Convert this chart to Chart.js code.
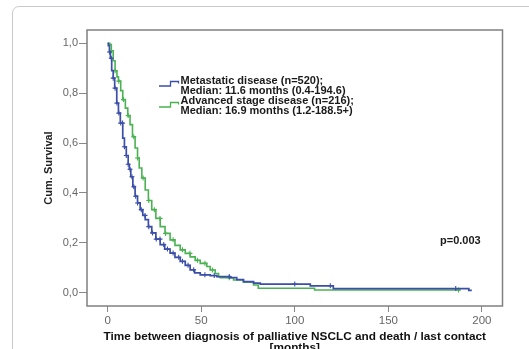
<!DOCTYPE html>
<html>
<head>
<meta charset="utf-8">
<script src="https://cdn.jsdelivr.net/npm/chart.js@4.4.1/dist/chart.umd.min.js"></script>
<style>
  html, body { margin: 0; padding: 0; background: #fff; overflow: hidden; }
  #frame {
    position: absolute; left: 12px; top: 6px; width: 600px; height: 400px;
    border: 1px solid #c9c9c9; border-radius: 7px;
  }
  #chart { position: absolute; left: 0; top: 0; }
</style>
</head>
<body>
<div id="frame"></div>
<canvas id="chart" width="529" height="349"></canvas>
<script>
// Kaplan-Meier steps: time (months) and survival after the step
const metTime = [0, 0.4, 1, 1.5, 2.2, 3, 3.8, 4.9, 5.8, 6.8, 8.1, 9, 10, 11, 11.6, 12.4, 13.5, 14.7, 16, 17.4,
  18.8, 20.1, 21.8, 23.6, 25.8, 28.1, 30.5, 33.4, 36, 38.8, 41.5, 44.1, 46.5, 49.5, 54.8, 58.4, 65.5, 69,
  72.6, 78, 81.6, 108.3, 120.6, 193, 194.6];
const metSurv = [1, 0.99, 0.965, 0.94, 0.89, 0.86, 0.82, 0.76, 0.72, 0.68, 0.62, 0.585, 0.55, 0.515, 0.495, 0.465,
  0.425, 0.387, 0.36, 0.333, 0.31, 0.293, 0.265, 0.24, 0.215, 0.193, 0.175, 0.159, 0.142, 0.126, 0.11, 0.092,
  0.08, 0.072, 0.069, 0.065, 0.061, 0.053, 0.045, 0.039, 0.035, 0.028, 0.017, 0.01, 0.01];

const advTime = [0, 1.2, 2, 3, 4, 5, 5.8, 7, 8.1, 9.5, 10.8, 12, 13.3, 14.7, 16, 16.9, 18.3, 20.1, 21.8, 23.6,
  25.8, 28.1, 30.7, 33.4, 36, 38.8, 41.5, 44.1, 46.8, 49.5, 53, 54.8, 57.5, 59.3, 60.2, 67.3, 72.6, 78, 80.5,
  110.6, 188.5];
const advSurv = [1, 0.995, 0.97, 0.93, 0.89, 0.865, 0.848, 0.81, 0.774, 0.74, 0.71, 0.674, 0.625, 0.58, 0.54, 0.5,
  0.46, 0.412, 0.37, 0.333, 0.298, 0.265, 0.238, 0.212, 0.19, 0.172, 0.158, 0.144, 0.13, 0.118, 0.105, 0.091,
  0.077, 0.064, 0.06, 0.051, 0.042, 0.031, 0.018, 0.011, 0.011];

// censored observations (months)
const metCensor = [1, 2, 3, 4, 5, 6, 7, 8, 9, 10, 11, 12, 13, 14, 15, 16, 18, 20, 22, 24, 26, 28, 30, 32, 35,
  38, 40, 43, 46, 52, 57, 65, 100, 119, 186];
const advCensor = [2, 4, 6, 8.5, 11, 14, 16, 19, 22, 25, 28, 31, 35, 40, 44, 48, 52, 56, 65, 187.5];

const xTicks = [0, 50, 100, 150, 200];
const yTicks = [0, 0.2, 0.4, 0.6, 0.8, 1.0];

const legendLines = [
  ['Metastatic disease (n=520);', 'Median: 11.6 months (0.4-194.6)'],
  ['Advanced stage disease (n=216);', 'Median: 16.9 months (1.2-188.5+)']
];
const pText = 'p=0.003';

const BLUE = '#3c4fa8';
const GREEN = '#4bb253';

// survival value at time t from the step arrays
function survAt(times, surv, t) {
  let s = surv[0];
  for (let i = 0; i < times.length; i++) if (times[i] <= t) s = surv[i];
  return s;
}
const pts = (ts, ss) => ts.map((t, i) => ({ x: t, y: ss[i] }));
const cens = (cs, ts, ss) => cs.map(t => ({ x: t, y: survAt(ts, ss, t) }));

const decorations = {
  id: 'decorations',
  afterDatasetsDraw(chart) {
    const { ctx, chartArea: a } = chart;
    ctx.save();
    // plot box
    ctx.strokeStyle = '#808080';
    ctx.lineWidth = 1.5;
    ctx.strokeRect(a.left, a.top, a.right - a.left, a.bottom - a.top);

    // legend
    const colors = [BLUE, GREEN];
    const iconY = [86, 107];
    ctx.font = 'bold 11px "Liberation Sans", Arial, sans-serif';
    ctx.textBaseline = 'alphabetic';
    ctx.textAlign = 'left';
    legendLines.forEach((lines, k) => {
      const y = iconY[k];
      ctx.strokeStyle = colors[k];
      ctx.lineWidth = 1.3;
      ctx.beginPath();
      ctx.moveTo(159, y);
      ctx.lineTo(170.5, y);
      ctx.lineTo(170.5, y - 4.5);
      ctx.lineTo(178.5, y - 4.5);
      ctx.lineTo(178.5, y - 2.5);
      ctx.stroke();
      ctx.fillStyle = '#1a1a1a';
      ctx.fillText(lines[0], 180.5, 83.5 + k * 20.5);
      ctx.fillText(lines[1], 180.5, 93.5 + k * 20.5);
    });

    // p value
    ctx.fillText(pText, 440, 243.5);
    ctx.restore();
  }
};

new Chart(document.getElementById('chart'), {
  type: 'line',
  data: {
    datasets: [
      { data: pts(metTime, metSurv), borderColor: BLUE, borderWidth: 1.7, stepped: 'before',
        pointRadius: 0, fill: false, order: 1 },
      { data: cens(metCensor, metTime, metSurv), showLine: false, borderColor: BLUE, backgroundColor: BLUE,
        pointStyle: 'cross', pointRadius: 2.5, pointBorderWidth: 1.1, order: 0 },
      { data: pts(advTime, advSurv), borderColor: GREEN, borderWidth: 1.6, stepped: 'before',
        pointRadius: 0, fill: false, order: 3 },
      { data: cens(advCensor, advTime, advSurv), showLine: false, borderColor: GREEN, backgroundColor: GREEN,
        pointStyle: 'cross', pointRadius: 2.5, pointBorderWidth: 1.1, order: 2 }
    ]
  },
  options: {
    responsive: false,
    animation: false,
    devicePixelRatio: 1,
    layout: { padding: { top: 30, right: 26.5, left: 0, bottom: 0 } },
    plugins: { legend: { display: false }, tooltip: { enabled: false } },
    scales: {
      x: {
        type: 'linear', min: -11, max: 211,
        afterBuildTicks: s => { s.ticks = xTicks.map(v => ({ value: v })); },
        afterFit: s => { s.height = 43; },
        grid: { drawOnChartArea: false, drawTicks: true, tickLength: 6, tickColor: '#888', lineWidth: 1 },
        border: { display: false },
        ticks: { color: '#666', padding: 2, font: { family: '"Liberation Sans", Arial, sans-serif', size: 11.5 } },
        title: {
          display: true,
          text: ['Time between diagnosis of palliative NSCLC and death / last contact', '[months]'],
          color: '#111',
          font: { family: '"Liberation Sans", Arial, sans-serif', size: 11.8, weight: 'bold', lineHeight: 0.9 },
          padding: { top: 0, bottom: -4 }
        }
      },
      y: {
        min: -0.053, max: 1.053,
        afterBuildTicks: s => { s.ticks = yTicks.map(v => ({ value: v })); },
        afterFit: s => { s.width = 87; },
        grid: { drawOnChartArea: false, drawTicks: true, tickLength: 8, tickColor: '#888', lineWidth: 1 },
        border: { display: false },
        ticks: {
          color: '#666', padding: 1,
          font: { family: '"Liberation Sans", Arial, sans-serif', size: 11 },
          callback: v => v.toFixed(1).replace('.', ',')
        },
        title: {
          display: true, text: 'Cum. Survival', color: '#222',
          font: { family: '"Liberation Sans", Arial, sans-serif', size: 11, weight: 'bold', lineHeight: 1 },
          padding: { top: 43, bottom: 0 }
        }
      }
    }
  },
  plugins: [decorations]
});
</script>
</body>
</html>
